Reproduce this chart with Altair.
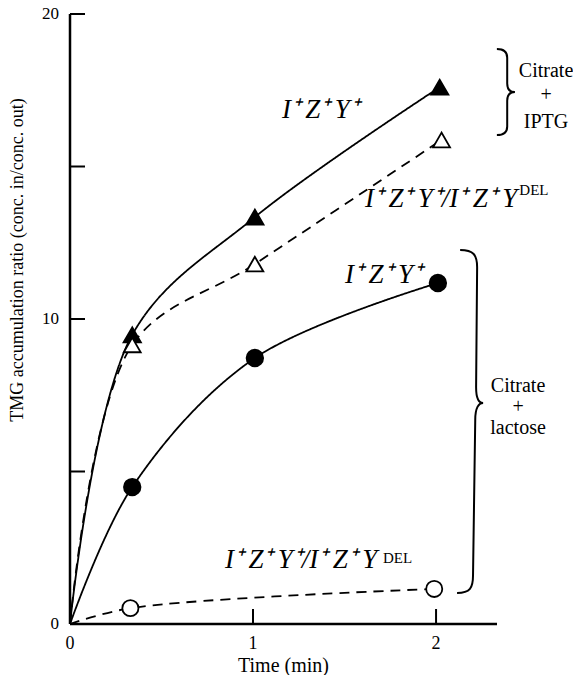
import altair as alt
import pandas as pd

# ---- data ----
series_names = ["IPTG_wt", "IPTG_del", "lac_wt", "lac_del"]
time_iptg_wt = [0, 0.34, 1.01, 2.02]
ratio_iptg_wt = [0, 9.48, 13.34, 17.6]
time_iptg_del = [0, 0.34, 1.01, 2.03]
ratio_iptg_del = [0, 9.15, 11.8, 15.87]
time_lac_wt = [0, 0.34, 1.01, 2.01]
ratio_lac_wt = [0, 4.49, 8.72, 11.18]
time_lac_del = [0, 0.33, 1.99]
ratio_lac_del = [0, 0.52, 1.15]

x_tick_labels = [0, 1, 2]
x_tick_marks = [1, 2]
y_tick_labels = [0, 10, 20]
y_tick_marks = [5, 10, 15, 20]
x_title = "Time (min)"
y_title = "TMG accumulation ratio (conc. in/conc. out)"

# annotation texts
TS = "\u2009"
geno_text = ["I⁺" + TS + "Z⁺" + TS + "Y⁺",
             "I⁺" + TS + "Z⁺" + TS + "Y⁺/I⁺" + TS + "Z⁺" + TS + "Y",
             "I⁺" + TS + "Z⁺" + TS + "Y⁺",
             "I⁺" + TS + "Z⁺" + TS + "Y⁺/I⁺" + TS + "Z⁺" + TS + "Y"]
geno_x = [1.158, 1.612, 1.503, 0.847]
geno_y = [16.6, 13.67, 11.18, 1.84]
del_text = ["DEL", "DEL"]
del_x = [2.455, 1.71]
del_y = [14.05, 2.0]
cond_text = ["Citrate", "+", "IPTG", "Citrate", "+", "lactose"]
cond_x = [2.601, 2.601, 2.601, 2.448, 2.448, 2.448]
cond_y = [17.93, 17.15, 16.26, 7.6, 6.92, 6.22]
brace_x = [2.377, 2.186]
brace_y = [17.44, 6.64]

rows = []
for name, xs, ys in zip(series_names,
                        [time_iptg_wt, time_iptg_del, time_lac_wt, time_lac_del],
                        [ratio_iptg_wt, ratio_iptg_del, ratio_lac_wt, ratio_lac_del]):
    for a, b in zip(xs, ys):
        rows.append({"series": name, "t": a, "r": b})
df = pd.DataFrame(rows)

W, H = 427, 610
x_scale = alt.Scale(domain=[0, 2.333], nice=False, zero=False)
y_scale = alt.Scale(domain=[0, 20], nice=False, zero=False)
FONT = "Liberation Serif"

dash_scale = alt.Scale(domain=series_names, range=[[1, 0], [10, 7], [1, 0], [10, 7]])

lines = alt.Chart(df).mark_line(interpolate="catmull-rom", color="black", strokeWidth=1.8).encode(
    x=alt.X("t:Q", scale=x_scale, axis=None),
    y=alt.Y("r:Q", scale=y_scale, axis=None),
    detail="series:N",
    strokeDash=alt.StrokeDash("series:N", scale=dash_scale, legend=None),
)

points = alt.Chart(df).transform_filter("datum.t > 0").mark_point(
    filled=True, stroke="black", strokeWidth=1.8, opacity=1
).encode(
    x=alt.X("t:Q", scale=x_scale, axis=None),
    y=alt.Y("r:Q", scale=y_scale, axis=None),
    shape=alt.Shape("series:N", scale=alt.Scale(domain=series_names,
                    range=["triangle-up", "triangle-up", "circle", "circle"]), legend=None),
    fill=alt.Fill("series:N", scale=alt.Scale(domain=series_names,
                  range=["black", "white", "black", "white"]), legend=None),
    size=alt.Size("series:N", scale=alt.Scale(domain=series_names,
                  range=[300, 260, 200, 140]), legend=None),
)

# ---- axes (domain lines, inward ticks, labels, titles) ----
y_domain = alt.Chart(pd.DataFrame({"a": [0]})).mark_rule(color="black", strokeWidth=2.5).encode(
    x=alt.value(0), y=alt.value(0), y2=alt.value(H))
x_domain = alt.Chart(pd.DataFrame({"a": [0]})).mark_rule(color="black", strokeWidth=2.5).encode(
    x=alt.value(0), x2=alt.value(W), y=alt.value(H))

yticks = alt.Chart(pd.DataFrame({"v": y_tick_marks})).mark_rule(color="black", strokeWidth=2).encode(
    y=alt.Y("v:Q", scale=y_scale, axis=None), x=alt.value(0), x2=alt.value(15))
xticks = alt.Chart(pd.DataFrame({"v": x_tick_marks})).mark_rule(color="black", strokeWidth=2).encode(
    x=alt.X("v:Q", scale=x_scale, axis=None), y=alt.value(H), y2=alt.value(H - 15))

xlabels = alt.Chart(pd.DataFrame({"v": x_tick_labels})).mark_text(
    font=FONT, fontSize=18, baseline="top", align="center", color="black", dy=11
).encode(x=alt.X("v:Q", scale=x_scale, axis=None), y=alt.value(H), text="v:Q")
ylabels = alt.Chart(pd.DataFrame({"v": y_tick_labels})).mark_text(
    font=FONT, fontSize=17, baseline="middle", align="right", color="black", dx=-11
).encode(y=alt.Y("v:Q", scale=y_scale, axis=None), x=alt.value(0), text="v:Q")

xtitle = alt.Chart(pd.DataFrame({"t": [x_title]})).mark_text(
    font=FONT, fontSize=20, baseline="top", align="center", color="black"
).encode(x=alt.value(W / 2), y=alt.value(H + 32), text="t:N")
ytitle = alt.Chart(pd.DataFrame({"t": [y_title]})).mark_text(
    font=FONT, fontSize=18, baseline="bottom", align="center", color="black", angle=270
).encode(x=alt.value(-43), y=alt.value(246), text="t:N")

# ---- annotations ----
geno_df = pd.DataFrame({"text": geno_text, "x": geno_x, "y": geno_y})
geno = alt.Chart(geno_df).mark_text(font=FONT, fontSize=27, fontStyle="italic",
                                   align="left", baseline="alphabetic", color="black").encode(
    x=alt.X("x:Q", scale=x_scale, axis=None),
    y=alt.Y("y:Q", scale=y_scale, axis=None),
    text="text:N",
)
del_df = pd.DataFrame({"text": del_text, "x": del_x, "y": del_y})
dels = alt.Chart(del_df).mark_text(font=FONT, fontSize=15, align="left",
                                  baseline="alphabetic", color="black").encode(
    x=alt.X("x:Q", scale=x_scale, axis=None),
    y=alt.Y("y:Q", scale=y_scale, axis=None),
    text="text:N",
)
cond_df = pd.DataFrame({"text": cond_text, "x": cond_x, "y": cond_y})
cond = alt.Chart(cond_df).mark_text(font=FONT, fontSize=20, align="center",
                                   baseline="alphabetic", color="black").encode(
    x=alt.X("x:Q", scale=x_scale, axis=None),
    y=alt.Y("y:Q", scale=y_scale, axis=None),
    text="text:N",
)

brace_small = ("M -0.19 -1 C -0.05 -1 0.05 -0.95 0.05 -0.8 L 0.05 -0.2 "
               "C 0.05 -0.07 0.12 0 0.23 0 C 0.12 0 0.05 0.07 0.05 0.2 "
               "L 0.05 0.8 C 0.05 0.95 -0.05 1 -0.19 1")
brace_big = ("M -0.058 -1 C 0.02 -1 0.041 -0.97 0.041 -0.9 L 0.035 -0.2 "
             "C 0.035 -0.13 0.05 -0.108 0.076 -0.108 C 0.05 -0.108 0.03 -0.08 0.03 -0.01 "
             "L 0.017 0.9 C 0.017 0.97 0 1 -0.076 1")
brace1 = alt.Chart(pd.DataFrame({"x": brace_x[:1], "y": brace_y[:1]})).mark_point(
    shape=brace_small, size=7396, filled=False, stroke="black", strokeWidth=2, opacity=1
).encode(x=alt.X("x:Q", scale=x_scale, axis=None), y=alt.Y("y:Q", scale=y_scale, axis=None))
brace2 = alt.Chart(pd.DataFrame({"x": brace_x[1:], "y": brace_y[1:]})).mark_point(
    shape=brace_big, size=117649, filled=False, stroke="black", strokeWidth=2, opacity=1
).encode(x=alt.X("x:Q", scale=x_scale, axis=None), y=alt.Y("y:Q", scale=y_scale, axis=None))

chart = alt.layer(
    lines, y_domain, x_domain, yticks, xticks, xlabels, ylabels, xtitle, ytitle,
    points, geno, dels, cond, brace1, brace2
).properties(
    width=W, height=H,
    autosize=alt.AutoSizeParams(type="none"),
    padding={"left": 62, "top": 6, "right": 76, "bottom": 51},
).configure_view(stroke=None)

chart.save("out.html", embed_options={"renderer": "svg", "actions": False})
